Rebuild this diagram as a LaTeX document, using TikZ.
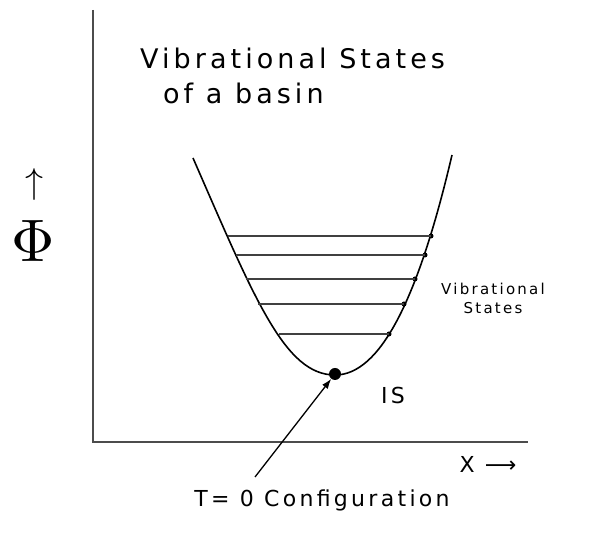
\documentclass[tikz,border=0pt]{standalone}
\usepackage{graphicx}
\usepackage{fontspec}
\newfontfamily\handfont[LetterSpace=15]{DejaVu Sans}
\usetikzlibrary{positioning,arrows.meta}

\begin{document}
\begin{tikzpicture}[x=1pt, y=-1pt,
    axis/.style={line width=1.8pt, color=black!70},
    basin/.style={line width=1.6pt, color=black},
    level/.style={line width=1.3pt, color=black!75},
    state/.style={circle, fill=black, inner sep=0pt, minimum size=5pt},
    ground/.style={circle, fill=black, inner sep=0pt, minimum size=12pt},
    big/.style={font=\handfont\fontsize{27}{32}\selectfont, inner sep=0pt},
    mid/.style={font=\handfont\fontsize{22}{26}\selectfont, inner sep=0pt},
    small/.style={font=\handfont\fontsize{15}{19}\selectfont, align=center, inner sep=0pt},
    arrow/.style={-{Latex[length=10pt, width=7pt]}, line width=1.3pt}
  ]
    \useasboundingbox (0,0) rectangle (598,534);

    % axes
    \coordinate (top) at (93,10);
    \coordinate (origin) at (93,442);
    \coordinate (xend) at (528,442);
    \draw[axis] (top) -- (origin) -- (xend);

    % basin
    \draw[basin] (193,158) .. controls (255,300) and (285,375) .. (335,375)
      .. controls (380,375) and (418,300) .. (452,155);

    % vibrational levels
    \foreach \y/\xl/\xr [count=\i] in {236/228/431, 255/236/425, 279/246/415,
        304/258/404, 334/279/389} {
      \coordinate (l\i) at (\xl,\y);
      \node[state] (s\i) at (\xr,\y) {};
      \draw[level] (l\i) -- (s\i.center);
    }
    \node[ground] (is) at (335,374) {};

    % labels
    \node[big, anchor=west] (title) at (140,58) {Vibrational States};
    \node[big, anchor=west] (titleb) at (163,93) {of a basin};
    \node[small] (states) at (493,298) {Vibrational\\States};
    \node[mid] (islabel) at (393,395) {IS};
    \node[mid] (tzero) at (322,500) {T= 0 Configuration};
    \node[mid] (xlabel) at (488,464) {X ⟶};
    \node[inner sep=0pt] (phi) at (33,241) {\scalebox{6}{$\Phi$}};
    \node[inner sep=0pt] (phiarrow) at (35,185) {\scalebox{3.6}{$\uparrow$}};

    \coordinate (tail) at (255,477);
    \draw[arrow] (tail) -- (is);
  \end{tikzpicture}
\end{document}
